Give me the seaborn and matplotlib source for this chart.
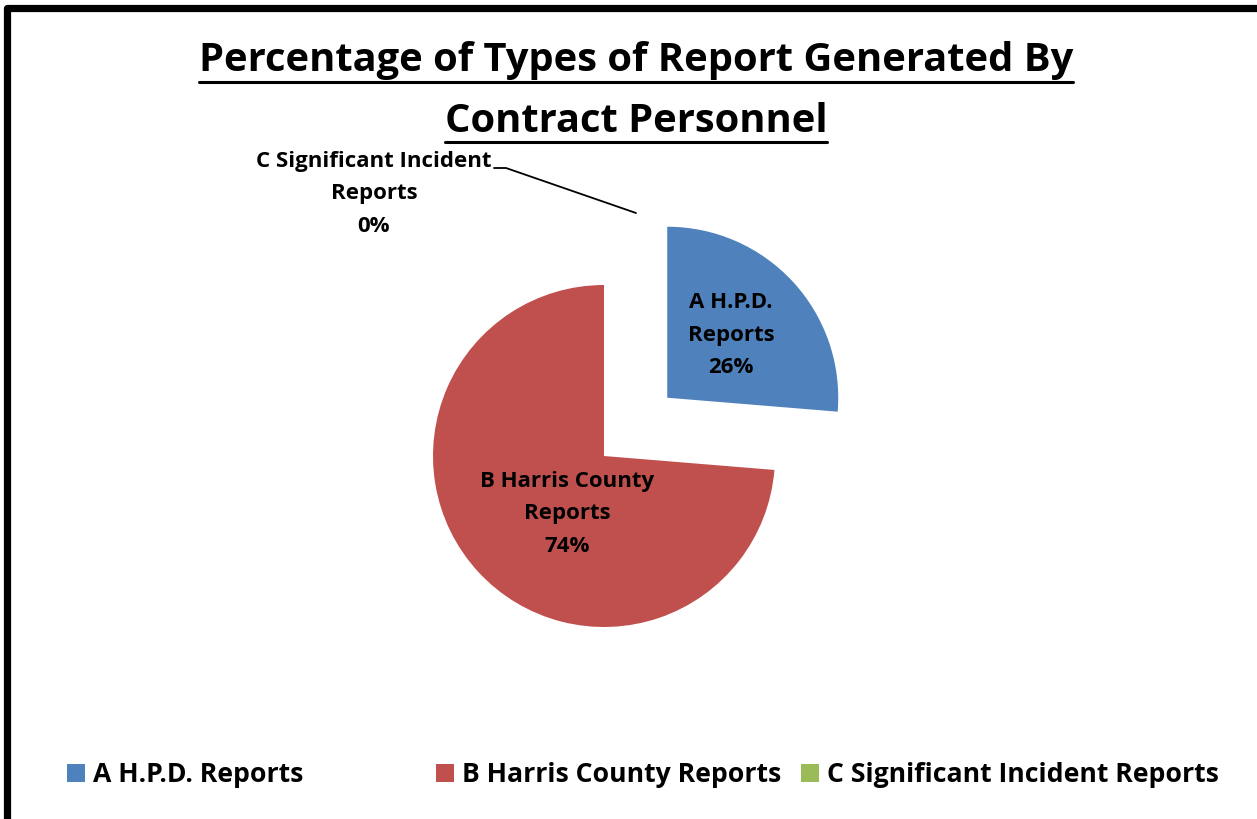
import matplotlib
matplotlib.use("Agg")
import matplotlib.pyplot as plt
import seaborn as sns
from matplotlib.patches import Rectangle, Patch
from matplotlib.lines import Line2D
import numpy as np

# ---- data ----
categories = ["A H.P.D. Reports", "B Harris County Reports", "C Significant Incident Reports"]
label_texts = ["A H.P.D.\nReports", "B Harris County\nReports", "C Significant Incident\nReports"]
shares = [26.3, 73.7, 0.0]
colors = ["#4F81BD", "#C0504D", "#9BBB59"]
title_lines = ["Percentage of Types of Report Generated By", "Contract Personnel"]

sns.set_theme(style="white")
plt.rcParams["font.family"] = ["Open Sans", "DejaVu Sans"]
plt.rcParams["text.color"] = "black"

W, H = 1257, 819
fig = plt.figure(figsize=(W / 100, H / 100), dpi=100)
ax = fig.add_axes([0, 0, 1, 1])

cx, cy, R = 604, H - 456, 171
wedges, _ = ax.pie(shares, colors=colors, startangle=90, counterclock=False,
                   radius=R, center=(cx, cy), explode=[86, 0, 0],
                   wedgeprops=dict(linewidth=0))
ax.set_xlim(0, W)
ax.set_ylim(0, H)
ax.set_aspect("auto")
ax.axis("off")

pct = [f"{v:.0f}%" for v in shares]
lab_fs = 16
ls = 1.72
ax.text(731, H - 335, f"{label_texts[0]}\n{pct[0]}", ha="center", va="center",
        fontsize=lab_fs, fontweight="bold", color="black", linespacing=ls)
ax.text(567, H - 514, f"{label_texts[1]}\n{pct[1]}", ha="center", va="center",
        fontsize=lab_fs, fontweight="bold", color="black", linespacing=ls)
ax.text(374, H - 194, f"{label_texts[2]}\n{pct[2]}", ha="center", va="center",
        fontsize=lab_fs, fontweight="bold", color="black", linespacing=ls)
ax.add_line(Line2D([494, 506, 636], [H - 168, H - 168, H - 213], color="black", lw=1.3))

# title with underline
title_fs = 28.7
tys = [H - 61, H - 121]
for line, ty in zip(title_lines, tys):
    t = ax.text(636, ty, line, ha="center", va="center", fontsize=title_fs,
                fontweight="bold", color="black")
    fig.canvas.draw()
    bb = t.get_window_extent()
    ax.add_line(Line2D([bb.x0, bb.x1], [ty - 21, ty - 21], color="black", lw=2.2))

# legend: three equally spaced entries
leg_x = [67, 436, 801]
for i, (c, name) in enumerate(zip(colors, categories)):
    lg = fig.legend(handles=[Patch(facecolor=c, edgecolor="none")], labels=[name],
                    loc="center left", bbox_to_anchor=(leg_x[i] / W, 1 - 775 / H),
                    frameon=False, handlelength=0.67, handleheight=0.67,
                    handletextpad=0.3, borderpad=0, borderaxespad=0,
                    labelcolor="black", prop=dict(size=19.2, weight="bold"))

# border (top + left visible)
fig.add_artist(Rectangle((6.5 / W, -0.1), 1.2, (H - 8.5) / H + 0.1,
                         transform=fig.transFigure, fill=False, edgecolor="black",
                         linewidth=5.2, joinstyle="round"))

fig.savefig("out.png", dpi=100, facecolor="white")
